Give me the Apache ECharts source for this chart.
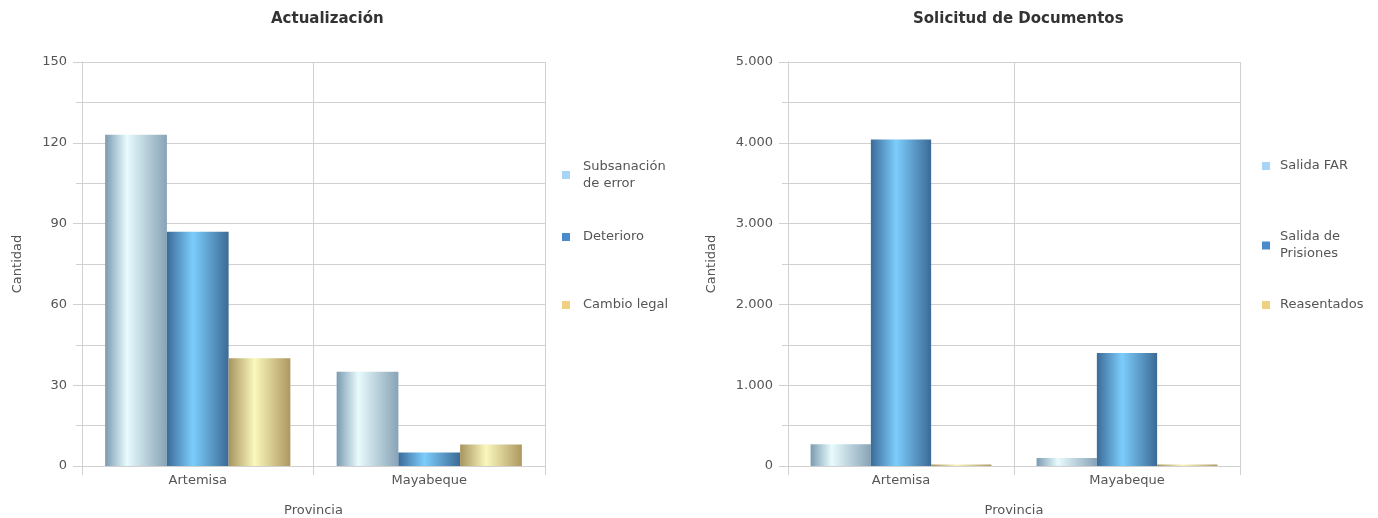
<!DOCTYPE html>
<html>
<head>
<meta charset="utf-8">
<script src="https://cdn.jsdelivr.net/npm/echarts@6/dist/echarts.min.js"></script>
<style>
  html, body { margin: 0; padding: 0; background: #fff; }
  #chart { width: 1378px; height: 518px; }
</style>
</head>
<body>
<div id="chart"></div>
<script>
// Categories and values
const provincias = ['Artemisa', 'Mayabeque'];

const actualizacionSeries = ['Subsanación de error', 'Deterioro', 'Cambio legal'];
const subsanacion = [123, 35];
const deterioro = [87, 5];
const cambioLegal = [40, 8];

const solicitudSeries = ['Salida FAR', 'Salida de Prisiones', 'Reasentados'];
const salidaFar = [270, 100];
const salidaPrisiones = [4040, 1400];
const reasentados = [20, 20];

// Legend texts (wrapped like the series names on screen)
const legendTextLeft = ['Subsanación\nde error', 'Deterioro', 'Cambio legal'];
const legendTextRight = ['Salida FAR', 'Salida de\nPrisiones', 'Reasentados'];

const FONT = '"DejaVu Sans", "Liberation Sans", sans-serif';
const LABEL_COLOR = '#555';
const LINE_COLOR = '#d0d0d0';
const FS = 13;

// Cylinder-like horizontal gradients for the three bar styles
function grad(edgeL, mid, edgeR, pos) {
  return new echarts.graphic.LinearGradient(0, 0, 1, 0, [
    { offset: 0, color: edgeL },
    { offset: pos, color: mid },
    { offset: 1, color: edgeR }
  ]);
}
const fills = [
  grad('#7b9bb1', '#e8fbfd', '#87a3b7', 0.35),
  grad('#3b6b99', '#7ccdfc', '#3c6a96', 0.42),
  grad('#a7945e', '#fbf8bd', '#ad975f', 0.42)
];
const legendColors = ['#a6d5f5', '#4a8bcb', '#f0d183'];

function yAxis(gridIndex, max, interval, fmt, nameGap, margin) {
  return {
    type: 'value', gridIndex, min: 0, max, interval,
    name: 'Cantidad', nameLocation: 'middle', nameGap,
    nameTextStyle: { color: LABEL_COLOR, fontSize: FS, fontFamily: FONT },
    axisLine: { show: true, lineStyle: { color: LINE_COLOR } },
    axisTick: { show: true, length: 9, lineStyle: { color: LINE_COLOR } },
    minorTick: { show: true, splitNumber: 2, length: 6, lineStyle: { color: LINE_COLOR } },
    axisLabel: { color: LABEL_COLOR, fontSize: FS, fontFamily: FONT, margin, formatter: fmt },
    splitLine: { show: true, lineStyle: { color: LINE_COLOR } },
    minorSplitLine: { show: true, lineStyle: { color: LINE_COLOR } }
  };
}

function xAxis(gridIndex) {
  return {
    type: 'category', gridIndex, data: provincias,
    name: 'Provincia', nameLocation: 'middle', nameGap: 38,
    nameTextStyle: { color: LABEL_COLOR, fontSize: FS, fontFamily: FONT },
    axisLine: { show: true, lineStyle: { color: LINE_COLOR } },
    axisTick: { show: true, length: 9, lineStyle: { color: LINE_COLOR } },
    axisLabel: { color: LABEL_COLOR, fontSize: FS, fontFamily: FONT, margin: 8 },
    splitLine: { show: true, lineStyle: { color: LINE_COLOR } }
  };
}

function bar(name, data, idx, axisIndex) {
  return {
    type: 'bar', name, data,
    xAxisIndex: axisIndex, yAxisIndex: axisIndex,
    barGap: 0, barCategoryGap: '20%',
    itemStyle: { color: fills[idx] },
    emphasis: { disabled: true },
    animation: false
  };
}

function legends(names, texts, left, tops, pad) {
  return names.map((n, i) => ({
    orient: 'vertical', left, top: tops[i],
    itemWidth: 8, itemHeight: 8, icon: 'rect',
    data: [{ name: n, itemStyle: { color: legendColors[i] } }],
    formatter: () => texts[i],
    textStyle: { color: LABEL_COLOR, fontSize: FS, fontFamily: FONT, lineHeight: 17, padding: [0, 0, 0, pad] },
    selectedMode: false
  }));
}

const fmtLeft = v => (v % 30 === 0 ? String(v) : '');
const fmtRight = v => String(v).replace(/\B(?=(\d{3})+(?!\d))/g, '.');

const chart = echarts.init(document.getElementById('chart'), null, { renderer: 'canvas' });
chart.setOption({
  backgroundColor: '#fff',
  animation: false,
  title: [
    { text: 'Actualización', left: 266, top: 7,
      textStyle: { color: '#333', fontSize: 15, fontWeight: 'bold', fontFamily: FONT } },
    { text: 'Solicitud de Documentos', left: 908, top: 7,
      textStyle: { color: '#333', fontSize: 15, fontWeight: 'bold', fontFamily: FONT } }
  ],
  legend: [
    ...legends(actualizacionSeries, legendTextLeft, 557, [153, 223.5, 291.5], 8),
    ...legends(solicitudSeries, legendTextRight, 1257, [152.5, 223.5, 291.5], 5)
  ],
  grid: [
    { left: 82, right: 833, top: 62, bottom: 52, outerBoundsMode: 'none' },
    { left: 788, right: 138, top: 62, bottom: 52, outerBoundsMode: 'none' }
  ],
  xAxis: [xAxis(0), xAxis(1)],
  yAxis: [yAxis(0, 150, 30, fmtLeft, 58, 15), yAxis(1, 5000, 1000, fmtRight, 70, 15)],
  series: [
    bar(actualizacionSeries[0], subsanacion, 0, 0),
    bar(actualizacionSeries[1], deterioro, 1, 0),
    bar(actualizacionSeries[2], cambioLegal, 2, 0),
    bar(solicitudSeries[0], salidaFar, 0, 1),
    bar(solicitudSeries[1], salidaPrisiones, 1, 1),
    bar(solicitudSeries[2], reasentados, 2, 1)
  ]
});
</script>
</body>
</html>
